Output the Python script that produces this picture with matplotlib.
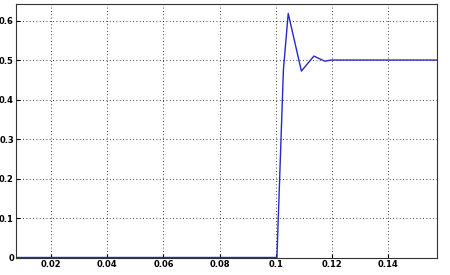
import numpy as np
import matplotlib
matplotlib.use("Agg")
import matplotlib.pyplot as plt

# step response
t = [0.0076, 0.1, 0.10036, 0.10267, 0.10438, 0.10907, 0.11351, 0.11742, 0.11956, 0.1573]
y = [0.0, 0.0, 0.0, 0.475, 0.618, 0.472, 0.510, 0.497, 0.500, 0.500]

xticks = [0.02, 0.04, 0.06, 0.08, 0.1, 0.12, 0.14]
xlabels = ['0.02', '0.04', '0.06', '0.08', '0.1', '0.12', '0.14']
yticks = [0, 0.1, 0.2, 0.3, 0.4, 0.5, 0.6]
ylabels = ['0', '0.1', '0.2', '0.3', '0.4', '0.5', '0.6']

fig = plt.figure(figsize=(4.5, 2.75), dpi=100)
ax = fig.add_axes([0.0356, 0.0636, 0.9355, 0.922])

ax.plot(t, y, color='#2828c8', lw=1.0)

ax.set_xlim(0.00756, 0.1573)
ax.set_ylim(0, 0.642)
ax.set_xticks(xticks)
ax.set_xticklabels(xlabels)
ax.set_yticks(yticks)
ax.set_yticklabels(ylabels)
ax.tick_params(direction='in', length=3, width=0.8, labelsize=6, pad=1.5)
for lab in ax.get_xticklabels() + ax.get_yticklabels():
    lab.set_fontweight('bold')
ax.grid(True, color='black', linestyle=(0, (1, 3)), linewidth=0.6)
for s in ax.spines.values():
    s.set_linewidth(0.8)
    s.set_color('#333333')

fig.savefig('out.png', dpi=100)
